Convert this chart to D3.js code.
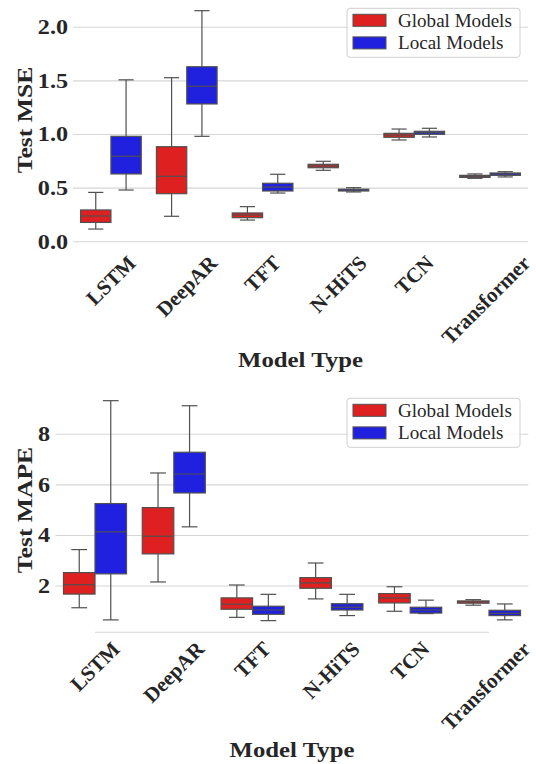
<!DOCTYPE html>
<html><head><meta charset="utf-8">
<script src="https://cdn.jsdelivr.net/npm/d3@7"></script>
<style>body{margin:0;background:#fff} svg{display:block}</style>
</head><body><svg id="c" width="536" height="764"></svg>
<script>
const models = ["LSTM","DeepAR","TFT","N-HiTS","TCN","Transformer"];
const groups = ["Global Models","Local Models"];
const colors = ["#df2020","#2020df"];
// each entry: [whisker low, Q1, median, Q3, whisker high]
const mseGlobal = [[0.118,0.18,0.24,0.296,0.46],[0.237,0.448,0.61,0.886,1.53],[0.202,0.224,0.249,0.268,0.327],[0.666,0.69,0.706,0.722,0.75],[0.949,0.974,0.995,1.011,1.051],[0.591,0.60,0.61,0.619,0.632]];
const mseLocal  = [[0.482,0.632,0.797,0.983,1.51],[0.983,1.285,1.45,1.632,2.155],[0.454,0.473,0.51,0.545,0.629],[0.464,0.473,0.482,0.49,0.504],[0.977,1.002,1.017,1.03,1.058],[0.604,0.619,0.632,0.641,0.653]];
const mapeGlobal = [[1.14,1.68,2.05,2.53,3.44],[2.16,3.27,3.97,5.10,6.47],[0.76,1.08,1.28,1.53,2.04],[1.49,1.91,2.12,2.33,2.91],[1.00,1.33,1.53,1.70,1.97],[1.24,1.32,1.37,1.41,1.46]];
const mapeLocal  = [[0.66,2.48,4.14,5.26,9.33],[4.34,5.68,6.43,7.29,9.13],[0.63,0.88,1.05,1.20,1.67],[0.83,1.05,1.16,1.30,1.67],[0.91,0.93,1.05,1.16,1.44],[0.66,0.83,0.92,1.04,1.29]];
const mseTicks = [0,0.5,1,1.5,2];
const mapeTicks = [2,4,6,8];

const svg = d3.select("#c");
const FONT = "'Liberation Serif', serif";
const LINE = "#505050";
const TXT = "#262626";

function drawChart(cfg){
  const g = svg.append("g");
  const x = d3.scaleBand().domain(models).range([cfg.x0, cfg.x1]).padding(0);
  const y = d3.scaleLinear().domain(cfg.ydom).range(cfg.yrng);
  const hue = d3.scaleBand().domain(groups).range([0, x.bandwidth()*0.8]);
  // gridlines
  g.append("g").selectAll("line").data(cfg.ticks).join("line")
    .attr("x1", cfg.x0).attr("x2", cfg.x1)
    .attr("y1", d=>y(d)).attr("y2", d=>y(d))
    .attr("stroke", "#d6d6d6").attr("stroke-width", 1.1);
  // y tick labels
  g.append("g").selectAll("text").data(cfg.ticks).join("text")
    .attr("transform", d=>`translate(${cfg.tickX},${y(d)}) scale(1.15,1)`)
    .attr("text-anchor","end").attr("dominant-baseline","central")
    .attr("font-family", FONT).attr("font-weight","bold").attr("font-size", 21)
    .attr("fill",TXT)
    .text(d=>cfg.fmt(d));
  if (cfg.spine) {
    g.append("line").attr("x1", x("LSTM")+x.bandwidth()/2).attr("x2", x("Transformer")+x.bandwidth()/2)
      .attr("y1", cfg.spine).attr("y2", cfg.spine).attr("stroke","#d6d6d6").attr("stroke-width",1.1);
  }
  // boxes
  const series = [cfg.global, cfg.local];
  series.forEach((arr, gi) => {
    arr.forEach((s, mi) => {
      const bx = x(models[mi]) + x.bandwidth()*0.1 + hue(groups[gi]);
      const bw = hue.bandwidth();
      const cx = bx + bw/2;
      const bg = g.append("g");
      bg.append("line").attr("x1",cx).attr("x2",cx).attr("y1",y(s[0])).attr("y2",y(s[1])).attr("stroke",LINE).attr("stroke-width",1.2);
      bg.append("line").attr("x1",cx).attr("x2",cx).attr("y1",y(s[3])).attr("y2",y(s[4])).attr("stroke",LINE).attr("stroke-width",1.2);
      [s[0], s[4]].forEach(v => bg.append("line").attr("x1",cx-bw/4).attr("x2",cx+bw/4).attr("y1",y(v)).attr("y2",y(v)).attr("stroke",LINE).attr("stroke-width",1.2));
      bg.append("rect").attr("x",bx).attr("width",bw).attr("y",y(s[3])).attr("height",Math.max(0.5,y(s[1])-y(s[3])))
        .attr("fill",colors[gi]).attr("stroke",LINE).attr("stroke-width",1.2);
      bg.append("line").attr("x1",bx).attr("x2",bx+bw).attr("y1",y(s[2])).attr("y2",y(s[2])).attr("stroke",LINE).attr("stroke-width",1.2);
    });
  });
  // x tick labels, rotated 45, bbox centred on tick
  const fs = 21, h = fs*1.0;
  models.forEach(m => {
    const t = g.append("text").attr("font-family",FONT).attr("font-weight","bold").attr("font-size",fs)
      .attr("fill",TXT).attr("text-anchor","middle").attr("dominant-baseline","central").text(m);
    const w = t.node().getComputedTextLength();
    const half = (w + h)/(2*Math.SQRT2);
    const cx = Math.min(x(m) + x.bandwidth()/2, 534 - half);
    const cy = cfg.labTop + half;
    t.attr("transform", `translate(${cx},${cy}) rotate(-45)`);
  });
  // axis titles
  g.append("text").attr("transform",`translate(${(cfg.x0+cfg.x1)/2},${cfg.xTitleY}) scale(1.18,1)`)
    .attr("text-anchor","middle")
    .attr("font-family",FONT).attr("font-weight","bold").attr("font-size",21).attr("fill",TXT).text("Model Type");
  g.append("text").attr("transform",`translate(${cfg.yTitleX},${cfg.yTitleY}) rotate(-90) scale(1.22,1)`)
    .attr("text-anchor","middle").attr("dominant-baseline","central")
    .attr("font-family",FONT).attr("font-weight","bold").attr("font-size",21).attr("fill",TXT).text(cfg.yTitle);
  // legend
  const L = g.append("g").attr("transform",`translate(347,${cfg.legY})`);
  L.append("rect").attr("width",173).attr("height",49).attr("rx",3)
    .attr("fill","#fff").attr("fill-opacity",0.8).attr("stroke","#d0d0d0").attr("stroke-width",1);
  groups.forEach((gname, i) => {
    L.append("rect").attr("x",6).attr("y",6+i*22.6).attr("width",33).attr("height",12)
      .attr("fill",colors[i]).attr("stroke",LINE).attr("stroke-width",1);
    L.append("text").attr("transform",`translate(51,${12+i*22.6}) scale(1.06,1)`).attr("dominant-baseline","central")
      .attr("font-family",FONT).attr("font-size",18).attr("fill",TXT).text(gname);
  });
}

drawChart({x0:73, x1:528, ydom:[0,2], yrng:[241.7,27.3], ticks:mseTicks, fmt:d3.format(".1f"), tickX:68,
  global:mseGlobal, local:mseLocal, labTop:252, xTitleY:367, yTitleX:25, yTitleY:120, yTitle:"Test MSE", legY:8.3});
drawChart({x0:55.6, x1:528.4, ydom:[2,8], yrng:[586,434.3], ticks:mapeTicks, fmt:d3.format("d"), tickX:50,
  global:mapeGlobal, local:mapeLocal, labTop:638, xTitleY:757, yTitleX:25, yTitleY:510, yTitle:"Test MAPE", legY:398.3, spine:632.3});
</script></body></html>
